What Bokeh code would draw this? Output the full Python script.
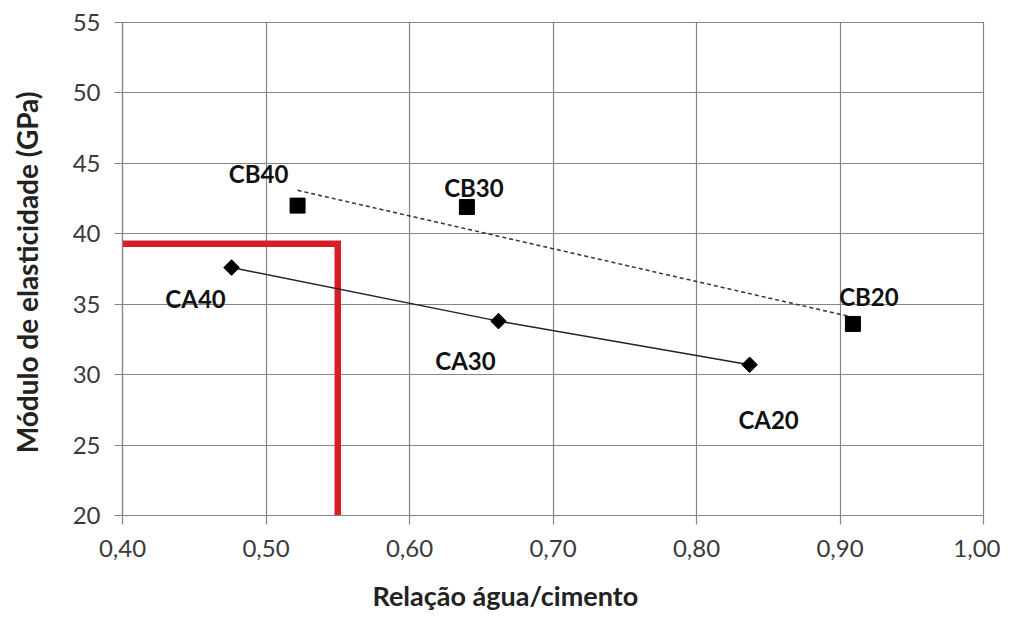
import numpy as np
from bokeh.plotting import figure
from bokeh.models import FixedTicker, Range1d, ColumnDataSource, Title
from bokeh.embed import file_html
from bokeh.resources import INLINE
from bokeh.core.properties import value

# ---- data ----
ca_x = [0.476, 0.662, 0.837]
ca_y = [37.6, 33.8, 30.7]
ca_names = ["CA40", "CA30", "CA20"]
cb_x = [0.522, 0.640, 0.909]
cb_y = [42.0, 41.9, 33.6]
cb_names = ["CB40", "CB30", "CB20"]
limit_x = [0.40, 0.55, 0.55]
limit_y = [39.3, 39.3, 20.0]
x_ticks = [0.40, 0.50, 0.60, 0.70, 0.80, 0.90, 1.00]
x_tick_labels = ["0,40", "0,50", "0,60", "0,70", "0,80", "0,90", "1,00"]
y_ticks = [20, 25, 30, 35, 40, 45, 50, 55]
x_title = "Relação água/cimento"
y_title = "Módulo de elasticidade  (GPa)"

# label placement (screen px) - style
ca_dx = [-36, -33, 19]
ca_dy = [31, 39, 55]
cb_dx = [-39, 7, 16]
cb_dy = [-32, -20, -27]

FONT = "Lato"
GRID = "#858585"
TXT = "#3a3a3a"

p = figure(width=1000, height=630, output_backend="svg", toolbar_location=None,
           x_range=Range1d(0.40, 1.00), y_range=Range1d(20, 55))
p.min_border_left = 122
p.min_border_right = 17
p.min_border_top = 22
p.min_border_bottom = 115
p.background_fill_color = "white"
p.border_fill_color = "white"
p.outline_line_color = GRID
p.outline_line_width = 1.2

p.xaxis.ticker = FixedTicker(ticks=x_ticks)
p.xaxis.major_label_overrides = {t: l for t, l in zip(x_ticks, x_tick_labels)}
p.yaxis.ticker = FixedTicker(ticks=y_ticks)
p.xaxis.minor_tick_line_color = None
p.yaxis.minor_tick_line_color = None
for ax in (p.xaxis, p.yaxis):
    ax.axis_line_color = GRID
    ax.axis_line_width = 1.2
    ax.major_tick_line_color = GRID
    ax.major_tick_line_width = 1.2
    ax.major_tick_in = 0
    ax.major_label_text_font = FONT
    ax.major_label_text_font_size = "24px"
    ax.major_label_text_color = TXT
p.xaxis.major_tick_out = 9
p.yaxis.major_tick_out = 8
p.xaxis.major_label_standoff = 15
p.yaxis.major_label_standoff = 14

p.yaxis.axis_label = y_title
p.yaxis.axis_label_text_font = FONT
p.yaxis.axis_label_text_font_size = "28px"
p.yaxis.axis_label_text_font_style = "bold"
p.yaxis.axis_label_text_color = "#222222"
p.yaxis.axis_label_standoff = 26

p.xgrid.grid_line_color = GRID
p.ygrid.grid_line_color = GRID
p.xgrid.grid_line_width = 1.2
p.ygrid.grid_line_width = 1.2
p.xgrid.ticker = FixedTicker(ticks=x_ticks)
p.ygrid.ticker = FixedTicker(ticks=y_ticks)

# x-axis title, centred on the whole chart area as in the source
p.add_layout(Title(text=x_title, align="left", offset=250, standoff=35,
                   text_font=FONT, text_font_size="27px", text_font_style="bold",
                   text_color="#222222"), "below")

# red limit lines
p.line(limit_x, limit_y, line_color="#d71e28", line_width=6.5, line_join="miter")

# CB trend (linear fit) dashed
coef = np.polyfit(cb_x, cb_y, 1)
tx = [min(cb_x), max(cb_x)]
ty = [coef[0] * v + coef[1] for v in tx]
p.line(tx, ty, line_color="#333333", line_width=1.5, line_dash="4 3")

# CA line
p.line(ca_x, ca_y, line_color="#222222", line_width=1.5)
p.scatter(ca_x, ca_y, marker="square", angle=np.pi / 4, size=11,
          fill_color="black", line_color="black")
p.scatter(cb_x, cb_y, marker="square", size=15, fill_color="black", line_color="black")

ca_src = ColumnDataSource(dict(x=ca_x, y=ca_y, t=ca_names, dx=ca_dx, dy=ca_dy))
cb_src = ColumnDataSource(dict(x=cb_x, y=cb_y, t=cb_names, dx=cb_dx, dy=cb_dy))
for src in (ca_src, cb_src):
    p.text(x="x", y="y", text="t", x_offset="dx", y_offset="dy", source=src,
           text_align="center", text_baseline="middle",
           text_font=value(FONT), text_font_style="bold",
           text_font_size="24px", text_color="#111111")

open("out.html", "w").write(file_html(p, INLINE))
